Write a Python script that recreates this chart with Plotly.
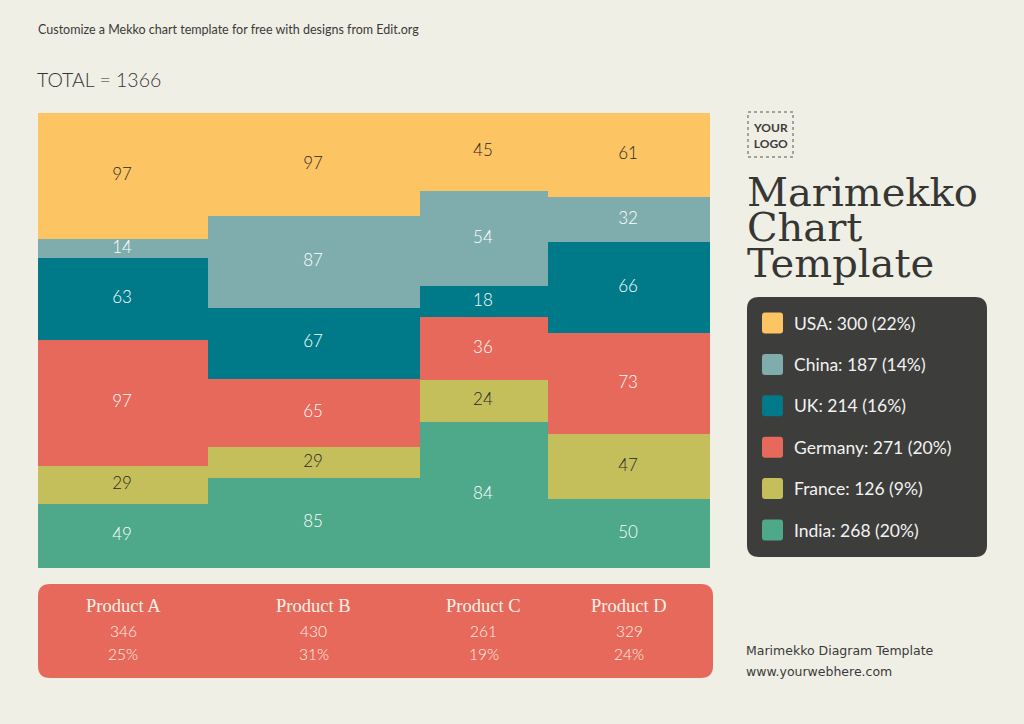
import plotly.graph_objects as go

# ---------------- data ----------------
products = ["Product A", "Product B", "Product C", "Product D"]
product_totals = [346, 430, 261, 329]
product_pcts = ["25%", "31%", "19%", "24%"]

countries = ["India", "France", "Germany", "UK", "China", "USA"]  # bottom -> top
values = {
    "India":   [49, 85, 84, 50],
    "France":  [29, 29, 24, 47],
    "Germany": [97, 65, 36, 73],
    "UK":      [63, 67, 18, 66],
    "China":   [14, 87, 54, 32],
    "USA":     [97, 97, 45, 61],
}
legend_order = ["USA", "China", "UK", "Germany", "France", "India"]
legend_totals = [300, 187, 214, 271, 126, 268]
legend_pcts = ["22%", "14%", "16%", "20%", "9%", "20%"]
grand_total = 1366

colors = {
    "USA": "#FDC464",
    "China": "#7FADAD",
    "UK": "#007A88",
    "Germany": "#E7695C",
    "France": "#C4BF5A",
    "India": "#4EA88A",
}
text_colors = {
    "USA": "#2a2a2a", "China": "#ffffff", "UK": "#ffffff",
    "Germany": "#ffffff", "France": "#2a2a2a", "India": "#ffffff",
}

BG = "#F0EFE5"
DARK = "#3D3D3B"
SANS = "Lato, 'Noto Sans', sans-serif"
WIDE = "'DejaVu Sans', sans-serif"
SERIF_T = "'DejaVu Serif', serif"
SERIF_P = "'Liberation Serif', serif"

# ---------------- geometry (plot area in px) ----------------
W, H = 1024, 724
L, R, T, B = 38, 710, 113, 568


def px(x):
    return (x - L) / (R - L)


def py(y):
    return (B - y) / (B - T)


def rounded_rect(x0, y0, x1, y1, r):
    # pixel coords -> paper path with rounded corners
    rx = r / (R - L)
    ry = r / (B - T)
    a0, a1 = px(x0), px(x1)
    b0, b1 = py(y1), py(y0)  # bottom, top in paper
    return (f"M {a0+rx},{b0} L {a1-rx},{b0} Q {a1},{b0} {a1},{b0+ry} "
            f"L {a1},{b1-ry} Q {a1},{b1} {a1-rx},{b1} L {a0+rx},{b1} "
            f"Q {a0},{b1} {a0},{b1-ry} L {a0},{b0+ry} Q {a0},{b0} {a0+rx},{b0} Z")


# column positions along x (data units)
lefts = []
acc = 0
for t in product_totals:
    lefts.append(acc)
    acc += t
centers = [l + w / 2 for l, w in zip(lefts, product_totals)]
col_sums = [sum(values[c][i] for c in countries) for i in range(len(products))]

fig = go.Figure()

bases = [0.0] * len(products)
label_x, label_y, label_t, label_c = [], [], [], []
for c in countries:
    fr = [values[c][i] / col_sums[i] for i in range(len(products))]
    fig.add_trace(go.Bar(
        x=centers, y=fr, width=product_totals, base=list(bases),
        marker=dict(color=colors[c], line=dict(width=0)),
        name=c, showlegend=False, hoverinfo="skip",
    ))
    for i in range(len(products)):
        label_x.append(centers[i] - 2)
        label_y.append(bases[i] + fr[i] / 2)
        label_t.append(str(values[c][i]))
        label_c.append(text_colors[c])
        bases[i] += fr[i]

fig.add_trace(go.Scatter(
    x=label_x, y=label_y, text=label_t, mode="text",
    textfont=dict(family=SANS, size=17, color=label_c, weight=300),
    showlegend=False, hoverinfo="skip",
))

shapes = []
annotations = []

# bottom red product box
shapes.append(dict(type="path", xref="paper", yref="paper",
                   path=rounded_rect(38, 584, 713, 678, 12),
                   fillcolor="#E7695C", line=dict(width=0), layer="below"))
for i, p in enumerate(products):
    annotations.append(dict(x=centers[i], xref="x", y=py(606), yref="paper",
                            text=p, showarrow=False, xanchor="center", yanchor="middle",
                            font=dict(family=SERIF_P, size=18.5, color="#FDF1E6")))
    annotations.append(dict(x=centers[i], xref="x", y=py(631), yref="paper",
                            text=str(product_totals[i]), showarrow=False,
                            xanchor="center", yanchor="middle",
                            font=dict(family=SANS, size=15.5, color="#FDF1E6", weight=300)))
    annotations.append(dict(x=centers[i], xref="x", y=py(654), yref="paper",
                            text=product_pcts[i], showarrow=False,
                            xanchor="center", yanchor="middle",
                            font=dict(family=SANS, size=15.5, color="#FDF1E6", weight=300)))

# legend panel
shapes.append(dict(type="path", xref="paper", yref="paper",
                   path=rounded_rect(747, 297, 987, 557, 12),
                   fillcolor=DARK, line=dict(width=0)))
for k, c in enumerate(legend_order):
    yc = 323 + k * 41.4
    shapes.append(dict(type="path", xref="paper", yref="paper",
                       path=rounded_rect(762, yc - 10.5, 783, yc + 10.5, 3),
                       fillcolor=colors[c], line=dict(width=0)))
    annotations.append(dict(x=px(792), xref="paper", y=py(yc), yref="paper",
                            text=f"{c}: {legend_totals[k]} ({legend_pcts[k]})",
                            showarrow=False, xanchor="left", yanchor="middle",
                            font=dict(family=SANS, size=17.5, color="#F2F2F2")))

# logo box
shapes.append(dict(type="rect", xref="paper", yref="paper",
                   x0=px(748), x1=px(793), y0=py(157), y1=py(112),
                   line=dict(color="#555555", width=1, dash="dot")))
annotations.append(dict(x=px(770.5), xref="paper", y=py(135), yref="paper",
                        text="<b>YOUR<br>LOGO</b>", showarrow=False,
                        xanchor="center", yanchor="middle",
                        font=dict(family=SANS, size=12, color=DARK)))

# title lines
for txt, yc in [("Marimekko", 192), ("Chart", 227), ("Template", 263)]:
    annotations.append(dict(x=px(745), xref="paper", y=py(yc), yref="paper",
                            text=txt, showarrow=False, xanchor="left", yanchor="middle",
                            font=dict(family=SERIF_T, size=40, color="#363634")))

# header texts
annotations.append(dict(x=px(36), xref="paper", y=py(30), yref="paper",
                        text="Customize a Mekko chart template for free with designs from Edit.org",
                        showarrow=False, xanchor="left", yanchor="middle",
                        font=dict(family=SANS, size=12.5, color="#3a3a3a")))
annotations.append(dict(x=px(35), xref="paper", y=py(79), yref="paper",
                        text=f"TOTAL = {grand_total}",
                        showarrow=False, xanchor="left", yanchor="middle",
                        font=dict(family=SANS, size=19.5, color="#333333", weight=300)))

# footer texts
annotations.append(dict(x=px(744), xref="paper", y=py(650), yref="paper",
                        text="Marimekko Diagram Template",
                        showarrow=False, xanchor="left", yanchor="middle",
                        font=dict(family=WIDE, size=12.5, color="#3a3a3a")))
annotations.append(dict(x=px(744), xref="paper", y=py(671), yref="paper",
                        text="www.yourwebhere.com",
                        showarrow=False, xanchor="left", yanchor="middle",
                        font=dict(family=WIDE, size=12.5, color="#3a3a3a")))

fig.update_layout(
    width=W, height=H,
    margin=dict(l=L, r=W - R, t=T, b=H - B, pad=0),
    paper_bgcolor=BG, plot_bgcolor=BG,
    barmode="stack", bargap=0,
    xaxis=dict(range=[0, grand_total], showgrid=False, zeroline=False,
               showticklabels=False, ticks="", showline=False, fixedrange=True),
    yaxis=dict(range=[0, 1], showgrid=False, zeroline=False,
               showticklabels=False, ticks="", showline=False, fixedrange=True),
    shapes=shapes, annotations=annotations,
    showlegend=False,
)

fig.write_html("out.html", config={"displayModeBar": False})
